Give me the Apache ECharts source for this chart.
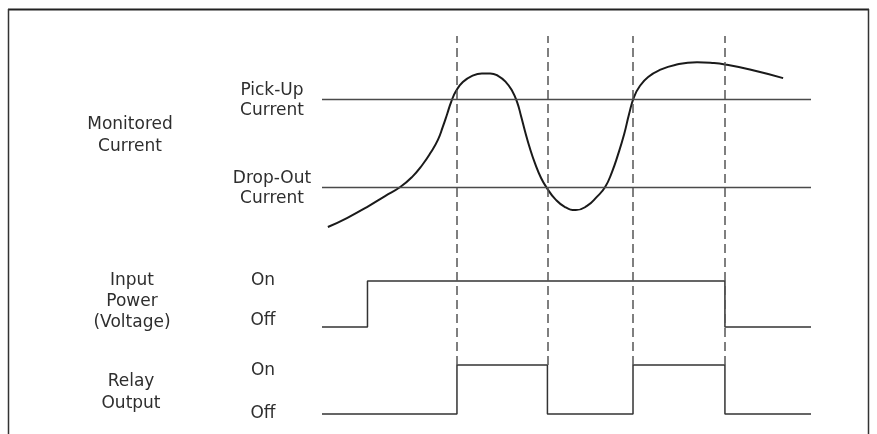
<!DOCTYPE html>
<html lang="en">
<head>
<meta charset="UTF-8">
<title>Relay timing</title>
<style>html,body{margin:0;padding:0;background:#fff}</style>
</head>
<body>
<div id="chart" style="width:877px;height:434px"></div>
<script src="https://cdn.jsdelivr.net/npm/echarts@6/dist/echarts.min.js"></script>
<script>
    // time axis runs 0..100, current in arbitrary units
    var curveT = [1.2, 5.1, 9.2, 12.9, 16.0, 18.4, 20.5, 22.3, 23.7, 24.7, 25.6, 26.4, 27.4, 28.8, 30.7, 32.7,
        34.4, 36.0, 37.6, 38.9, 39.9, 40.7, 41.5, 42.5, 43.6, 44.8, 46.0, 47.7, 49.7, 51.9, 54.2, 56.2,
        57.9, 59.3, 60.5, 61.8, 62.8, 63.8, 65.0, 66.7, 69.1, 72.2, 76.7, 79.8, 82.4, 87.5, 94.3];
    var curveI = [4.18, 4.59, 5.09, 5.59, 6.00, 6.45, 7.00, 7.59, 8.14, 8.73, 9.32, 9.86, 10.36, 10.77, 11.05, 11.16,
        11.16, 11.05, 10.77, 10.36, 9.86, 9.23, 8.55, 7.77, 7.05, 6.41, 5.95, 5.45, 5.09, 4.95, 5.14, 5.55,
        6.00, 6.68, 7.45, 8.41, 9.32, 10.09, 10.59, 11.00, 11.32, 11.55, 11.67, 11.64, 11.57, 11.34, 10.95];
    var pickUp = 10;
    var dropOut = 6;

    var powerT = [0, 9.3, 82.4, 100];
    var powerState = [0, 1, 0, 0];
    var relayT = [0, 27.6, 46.1, 63.6, 82.4, 100];
    var relayState = [0, 1, 0, 1, 0, 0];
    var edgeT = [27.6, 46.1, 63.6, 82.4];

    var rowTitles = ['Monitored\nCurrent', 'Input\nPower\n(Voltage)', 'Relay\nOutput'];
    var levelNames = ['Pick-Up\nCurrent', 'Drop-Out\nCurrent'];
    var stateNames = ['Off', 'On'];

    var FONT = 'DejaVu Sans';
    var TXT = '#2e2e2e';

    function zip (xs, ys) {
        var res = [];
        for (var i = 0; i < xs.length; i++) {
            res.push([xs[i], ys[i]]);
        }
        return res;
    }

    function timeAxis (idx) {
        return {gridIndex: idx, type: 'value', min: 0, max: 100, show: false};
    }

    // state axis: Off/On labels nudged up/down with rich padding
    function stateAxis (idx, offPad, onPad) {
        return {
            gridIndex: idx, type: 'value', min: 0, max: 1, interval: 1,
            axisLine: {show: false}, axisTick: {show: false}, splitLine: {show: false},
            axisLabel: {
                margin: 59, align: 'center',
                formatter: function (v) {
                    return v === 1 ? '{on|' + stateNames[1] + '}' : '{off|' + stateNames[0] + '}';
                },
                rich: {
                    on: {fontFamily: FONT, fontSize: 17, color: TXT, padding: onPad},
                    off: {fontFamily: FONT, fontSize: 17, color: TXT, padding: offPad}
                }
            }
        };
    }

    function stepSeries (idx, xs, ys) {
        return {
            type: 'line', xAxisIndex: idx, yAxisIndex: idx, step: 'end',
            data: zip(xs, ys), showSymbol: false, clip: false, silent: true,
            lineStyle: {color: '#333', width: 1.5}
        };
    }

    var option = {
        animation: false,
        backgroundColor: '#fff',
        grid: [
            {left: 322, right: 66, top: 11, bottom: 159},
            {left: 322, right: 66, top: 281, bottom: 107},
            {left: 322, right: 66, top: 365, bottom: 20},
            {left: 322, right: 66, top: 36, bottom: 69}
        ],
        xAxis: [timeAxis(0), timeAxis(1), timeAxis(2), timeAxis(3)],
        yAxis: [
            {
                gridIndex: 0, type: 'value', min: 2, max: 14, interval: 2,
                axisLine: {show: false}, axisTick: {show: false}, splitLine: {show: false},
                axisLabel: {
                    margin: 50, align: 'center',
                    formatter: function (v) {
                        if (v === pickUp) return '{lv|' + levelNames[0].replace('\n', '}\n{lv|') + '}';
                        if (v === dropOut) return '{lv|' + levelNames[1].replace('\n', '}\n{lv|') + '}';
                        return '';
                    },
                    rich: {
                        lv: {fontFamily: FONT, fontSize: 17, color: TXT, lineHeight: 20, padding: [4, 0, 0, 0]}
                    }
                }
            },
            stateAxis(1, [0, 0, 12, 0], [0, 0, 0, 0]),
            stateAxis(2, [0, 0, 0, 0], [12, 0, 0, 0]),
            {gridIndex: 3, type: 'value', min: 0, max: 1, show: false}
        ],
        series: [
            {
                type: 'line', xAxisIndex: 0, yAxisIndex: 0,
                data: zip(curveT, curveI), smooth: 0.5, showSymbol: false, silent: true,
                lineStyle: {color: '#1a1a1a', width: 2},
                markLine: {
                    silent: true, symbol: ['none', 'none'], label: {show: false},
                    lineStyle: {color: '#4a4a4a', width: 1.3, type: 'solid'},
                    data: [{yAxis: pickUp}, {yAxis: dropOut}]
                }
            },
            stepSeries(1, powerT, powerState),
            stepSeries(2, relayT, relayState),
            {
                type: 'line', xAxisIndex: 3, yAxisIndex: 3, data: [], silent: true,
                markLine: {
                    silent: true, symbol: ['none', 'none'], label: {show: false},
                    lineStyle: {color: '#555', width: 1.5, type: [9, 5]},
                    data: edgeT.map(function (t) { return {xAxis: t}; })
                }
            }
        ],
        graphic: [
            {type: 'line', shape: {x1: 8, y1: 9.5, x2: 869, y2: 9.5}, style: {stroke: '#222', lineWidth: 2}},
            {type: 'line', shape: {x1: 8.5, y1: 9, x2: 8.5, y2: 434}, style: {stroke: '#333', lineWidth: 1.5}},
            {type: 'line', shape: {x1: 868.5, y1: 9, x2: 868.5, y2: 434}, style: {stroke: '#333', lineWidth: 1.5}},
            {type: 'text', x: 130, y: 136, style: {text: rowTitles[0], align: 'center', verticalAlign: 'middle',
                fontFamily: FONT, fontSize: 17, lineHeight: 22, fill: TXT}},
            {type: 'text', x: 132, y: 302, style: {text: rowTitles[1], align: 'center', verticalAlign: 'middle',
                fontFamily: FONT, fontSize: 17, lineHeight: 21, fill: TXT}},
            {type: 'text', x: 131, y: 393, style: {text: rowTitles[2], align: 'center', verticalAlign: 'middle',
                fontFamily: FONT, fontSize: 17, lineHeight: 22, fill: TXT}}
        ]
    };

    var chart = echarts.init(document.getElementById('chart'));
    chart.setOption(option);
</script>
</body>
</html>
